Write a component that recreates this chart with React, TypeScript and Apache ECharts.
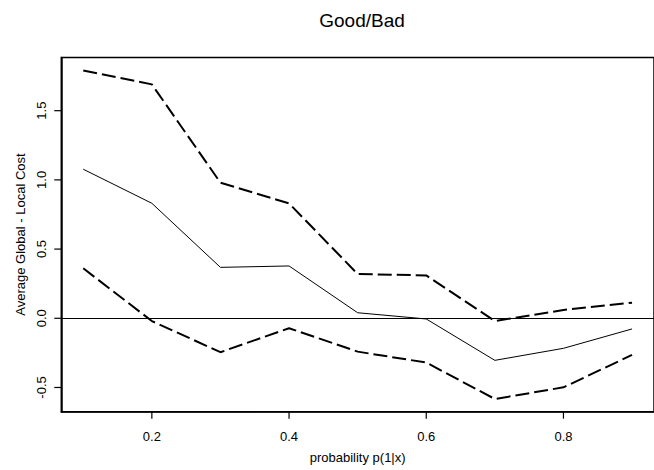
import React, { useEffect, useRef } from "react";
import * as echarts from "echarts";

const xValues = [0.1, 0.2, 0.3, 0.4, 0.5, 0.6, 0.7, 0.8, 0.9];
const upperBand = [1.79, 1.69, 0.98, 0.83, 0.32, 0.31, -0.02, 0.06, 0.113];
const meanCost = [1.077, 0.831, 0.368, 0.378, 0.04, -0.005, -0.304, -0.217, -0.077];
const lowerBand = [0.361, -0.02, -0.245, -0.072, -0.241, -0.32, -0.583, -0.499, -0.265];
const xTicks = [0.2, 0.4, 0.6, 0.8];
const yTicks = [-0.5, 0, 0.5, 1.0, 1.5];

const X_MIN = 0.068;
const X_MAX = 0.932;
const Y_MIN = -0.675;
const Y_MAX = 1.885;
const TICK_LEN = 7;

const FONT = "'Liberation Sans', Arial, Helvetica, sans-serif";

export default function App() {
  const ref = useRef<HTMLDivElement>(null);
  useEffect(() => {
    if (!ref.current) return;
    const chart = echarts.init(ref.current, null, { renderer: "svg" });
    const pairs = (ys: number[]) => xValues.map((x, i) => [x, ys[i]]);
    const dashed = { color: "#000", width: 2, type: [14, 5] as any };
    const titleText = {
      type: "text",
      id: "title",
      x: 362,
      y: 20,
      style: {
        text: "Good/Bad",
        font: `19px ${FONT}`,
        fill: "#000",
        textAlign: "center",
        textVerticalAlign: "middle",
      },
    };
    chart.setOption({
      animation: false,
      backgroundColor: "#fff",
      textStyle: { fontFamily: FONT },
      grid: {
        left: 61.3,
        top: 57.4,
        width: 601.4,
        height: 354.3,
        show: true,
        borderColor: "#000",
        borderWidth: 1.5,
        backgroundColor: "transparent",
        containLabel: false,
      },
      graphic: [titleText],
      xAxis: {
        type: "value",
        position: "bottom",
        min: X_MIN,
        max: X_MAX,
        name: "probability p(1|x)",
        nameLocation: "middle",
        nameGap: 39,
        nameTextStyle: { fontSize: 13, color: "#000", fontFamily: FONT },
        axisLine: { show: true, onZero: false, lineStyle: { color: "#000", width: 1.5 } },
        splitLine: { show: false },
        axisTick: { show: false },
        axisLabel: {
          customValues: xTicks,
          fontSize: 13,
          color: "#000",
          margin: 18,
          fontFamily: FONT,
          formatter: (v: number) => v.toFixed(1),
        },
      },
      yAxis: {
        type: "value",
        position: "left",
        min: Y_MIN,
        max: Y_MAX,
        name: "Average Global - Local Cost",
        nameLocation: "middle",
        nameGap: 32,
        nameRotate: 90,
        nameTextStyle: { fontSize: 13, color: "#000", fontFamily: FONT },
        axisLine: { show: true, onZero: false, lineStyle: { color: "#000", width: 1.5 } },
        splitLine: { show: false },
        axisTick: { show: false },
        axisLabel: {
          customValues: yTicks,
          fontSize: 13,
          color: "#000",
          rotate: 90,
          margin: 13,
          align: "center",
          verticalAlign: "bottom",
          fontFamily: FONT,
          formatter: (v: number) => v.toFixed(1),
        },
      },
      series: [
        {
          type: "line",
          data: pairs(upperBand),
          symbol: "none",
          lineStyle: dashed,
          z: 3,
        },
        {
          type: "line",
          data: pairs(meanCost),
          symbol: "none",
          lineStyle: { color: "#000", width: 1 },
          markLine: {
            silent: true,
            symbol: "none",
            label: { show: false },
            lineStyle: { color: "#000", width: 1, type: "solid" },
            data: [{ yAxis: 0 }],
          },
          z: 3,
        },
        {
          type: "line",
          data: pairs(lowerBand),
          symbol: "none",
          lineStyle: dashed,
          z: 3,
        },
      ],
    });

    // Tick marks placed through the chart's own scales
    const tickStyle = { stroke: "#000", lineWidth: 1.2 };
    const tickGraphics: any[] = [];
    xTicks.forEach((v, i) => {
      const p = chart.convertToPixel({ gridIndex: 0 }, [v, Y_MIN]) as number[];
      tickGraphics.push({
        type: "line",
        id: "xt" + i,
        shape: { x1: p[0], y1: p[1], x2: p[0], y2: p[1] + TICK_LEN },
        style: tickStyle,
        z: 10,
      });
    });
    yTicks.forEach((v, i) => {
      const p = chart.convertToPixel({ gridIndex: 0 }, [X_MIN, v]) as number[];
      tickGraphics.push({
        type: "line",
        id: "yt" + i,
        shape: { x1: p[0], y1: p[1], x2: p[0] - TICK_LEN, y2: p[1] },
        style: tickStyle,
        z: 10,
      });
    });
    chart.setOption({ graphic: [titleText, ...tickGraphics] });

    return () => chart.dispose();
  }, []);
  return (
    <div
      ref={ref}
      style={{ position: "absolute", left: 0, top: 0, width: 654, height: 470 }}
    />
  );
}
